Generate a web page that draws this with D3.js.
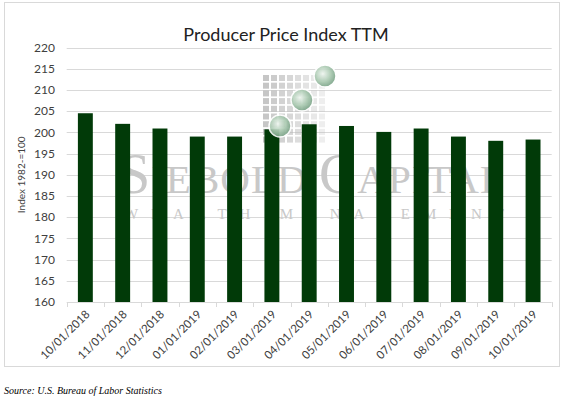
<!DOCTYPE html>
<html>
<head>
<meta charset="utf-8">
<script src="https://cdn.jsdelivr.net/npm/d3@7"></script>
<style>
  body { margin: 0; background: #fff; }
  text { font-family: Lato, "Open Sans", sans-serif; }
</style>
</head>
<body>
<svg id="chart"></svg>
<script>
// PPI readings, trailing twelve months
const months = ["10/01/2018", "11/01/2018", "12/01/2018", "01/01/2019", "02/01/2019",
  "03/01/2019", "04/01/2019", "05/01/2019", "06/01/2019", "07/01/2019",
  "08/01/2019", "09/01/2019", "10/01/2019"];
const ppi = [204.5, 202.0, 200.9, 199.0, 199.0, 200.7, 201.9, 201.5, 200.1, 200.9, 199.0, 198.0, 198.3];
const yTicks = [160, 165, 170, 175, 180, 185, 190, 195, 200, 205, 210, 215, 220];

const width = 569, height = 399;
const margin = { top: 47.5, right: 17.3, bottom: 97, left: 66.7 };

const svg = d3.select("#chart").attr("width", width).attr("height", height);

const defs = svg.append("defs");
const grad = defs.append("radialGradient").attr("id", "ball")
  .attr("cx", "40%").attr("cy", "40%").attr("r", "60%");
grad.append("stop").attr("offset", "0%").attr("stop-color", "#eef5ef");
grad.append("stop").attr("offset", "60%").attr("stop-color", "#a9c9b0");
grad.append("stop").attr("offset", "100%").attr("stop-color", "#7ba488");

// chart frame
svg.append("rect")
  .attr("x", 4.5).attr("y", 2.5).attr("width", 555).attr("height", 364)
  .attr("fill", "#fff").attr("stroke", "#d9d9d9");

const x = d3.scaleBand()
  .domain(months)
  .range([margin.left, width - margin.right])
  .paddingInner(0.6)
  .paddingOuter(0.3);

const y = d3.scaleLinear()
  .domain([160, 220])
  .range([height - margin.bottom, margin.top]);

// gridlines
svg.append("g")
  .selectAll("line")
  .data(yTicks.slice(1))
  .join("line")
  .attr("x1", margin.left).attr("x2", width - margin.right)
  .attr("y1", d => Math.round(y(d)) + 0.5).attr("y2", d => Math.round(y(d)) + 0.5)
  .attr("stroke", "#d9d9d9");

// watermark (behind the bars)
const wm = svg.append("g");
for (let r = 0; r < 9; r++) {
  for (let c = 0; c < 8; c++) {
    const fade = 0.8 - c * 0.08;
    wm.append("rect")
      .attr("x", 263 + c * 8).attr("y", 75 + r * 7.7)
      .attr("width", 6).attr("height", 6)
      .attr("fill", "#b8b8b8").attr("opacity", Math.max(0.2, fade));
  }
}

const brand = wm.append("text")
  .attr("x", 119).attr("y", 193)
  .attr("textLength", 386)
  .attr("lengthAdjust", "spacing")
  .style("font-family", "'Liberation Serif', 'DejaVu Serif', serif")
  .attr("fill", "#c8c8c8");
[["S", 56], ["IEBOLD ", 41], ["C", 56], ["APITAL", 41]].forEach(([t, s]) => {
  brand.append("tspan").style("font-size", s + "px").text(t);
});

wm.append("text")
  .attr("x", 124).attr("y", 219)
  .attr("textLength", 380)
  .attr("lengthAdjust", "spacing")
  .style("font-family", "'Liberation Serif', 'DejaVu Serif', serif")
  .style("font-size", "15px")
  .attr("fill", "#c8c8c8")
  .text("WEALTH MANAGEMENT");

// bars
svg.append("g")
  .selectAll("rect")
  .data(months)
  .join("rect")
  .attr("x", d => x(d))
  .attr("y", (d, i) => y(ppi[i]))
  .attr("width", x.bandwidth())
  .attr("height", (d, i) => y(160) - y(ppi[i]))
  .attr("fill", "#013a08");

// logo spheres
const balls = [[280, 126], [302, 100], [325, 76]];
svg.append("g")
  .selectAll("circle")
  .data(balls)
  .join("circle")
  .attr("cx", d => d[0]).attr("cy", d => d[1]).attr("r", 11)
  .attr("fill", "url(#ball)").attr("stroke", "#fff").attr("stroke-width", 1.5)
  .attr("opacity", 0.9);

// x axis
const xAxis = svg.append("g")
  .attr("transform", `translate(0,${y(160)})`);
xAxis.append("line")
  .attr("x1", margin.left).attr("x2", width - margin.right)
  .attr("y1", 0.5).attr("y2", 0.5).attr("stroke", "#d9d9d9");
const step = x.step();
xAxis.selectAll(".tick")
  .data(d3.range(months.length + 1))
  .join("line")
  .attr("x1", i => Math.round(margin.left + i * step) + 0.5)
  .attr("x2", i => Math.round(margin.left + i * step) + 0.5)
  .attr("y1", 0).attr("y2", 5).attr("stroke", "#d9d9d9");

xAxis.selectAll("text")
  .data(months)
  .join("text")
  .attr("transform", d => `translate(${x(d) + x.bandwidth() / 2 + 5},${13}) rotate(-45)`)
  .attr("text-anchor", "end")
  .style("font-size", "11.5px")
  .attr("fill", "#404040")
  .text(d => d);

// y axis labels
svg.append("g")
  .selectAll("text")
  .data(yTicks)
  .join("text")
  .attr("x", 55)
  .attr("y", d => y(d))
  .attr("dy", "0.35em")
  .attr("text-anchor", "end")
  .style("font-size", "12px")
  .attr("fill", "#404040")
  .text(d => d);

svg.append("text")
  .attr("transform", `translate(25,${(y(160) + y(220)) / 2}) rotate(-90)`)
  .attr("text-anchor", "middle")
  .style("font-size", "10px")
  .attr("fill", "#404040")
  .text("Index 1982-=100");

// title
svg.append("text")
  .attr("x", 286).attr("y", 41)
  .attr("text-anchor", "middle")
  .style("font-size", "18px")
  .attr("fill", "#222")
  .text("Producer Price Index TTM");

// source
svg.append("text")
  .attr("x", 4).attr("y", 394)
  .style("font-family", "'Liberation Serif', serif")
  .style("font-style", "italic")
  .style("font-size", "10px")
  .attr("fill", "#000")
  .text("Source:  U.S. Bureau of Labor Statistics");
</script>
</body>
</html>
